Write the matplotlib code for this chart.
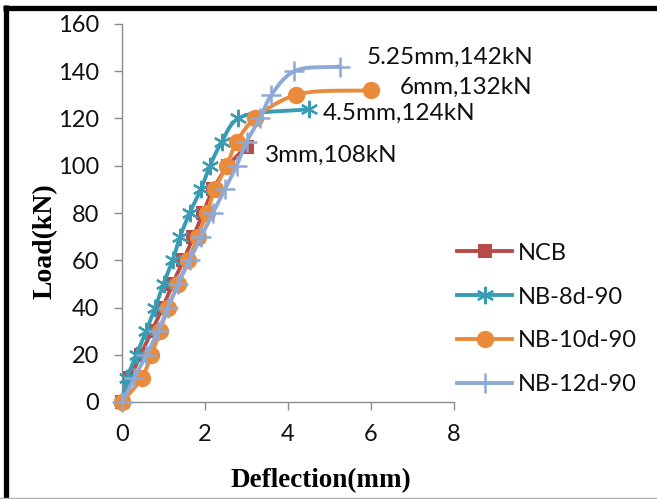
import numpy as np
import matplotlib
matplotlib.use("Agg")
import matplotlib.pyplot as plt
from matplotlib.lines import Line2D

# ---------------- data ----------------
ncb_x = [0, 0.2, 0.45, 0.72, 0.98, 1.22, 1.48, 1.72, 1.95, 2.2, 2.55, 3.0]
ncb_y = [0, 10, 20, 30, 40, 50, 60, 70, 80, 90, 100, 108]

nb8_x = [0, 0.12, 0.35, 0.58, 0.8, 1.0, 1.22, 1.4, 1.63, 1.9, 2.12, 2.4, 2.8, 4.5]
nb8_y = [0, 10, 20, 30, 40, 50, 60, 70, 80, 90, 100, 110, 120, 124]

nb10_x = [0, 0.47, 0.71, 0.91, 1.11, 1.35, 1.6, 1.83, 2.04, 2.24, 2.52, 2.76, 3.2, 4.2, 6.0]
nb10_y = [0, 10, 20, 30, 40, 50, 60, 70, 80, 90, 100, 110, 120, 130, 132]

nb12_x = [0, 0.29, 0.59, 0.87, 1.11, 1.35, 1.63, 1.91, 2.19, 2.48, 2.76, 3.0, 3.32, 3.6, 4.15, 5.25]
nb12_y = [0, 10, 20, 30, 40, 50, 60, 70, 80, 90, 100, 110, 120, 130, 140, 142]

series_names = ["NCB", "NB-8d-90", "NB-10d-90", "NB-12d-90"]
annot_texts = ["5.25mm,142kN", "6mm,132kN", "4.5mm,124kN", "3mm,108kN"]
annot_pos = [(5.9, 146), (6.7, 133), (4.84, 122.3), (3.45, 104.5)]

x_ticks = [0, 2, 4, 6, 8]
y_ticks = [0, 20, 40, 60, 80, 100, 120, 140, 160]


def smooth(x, y, n=16, alpha=0.5):
    """Centripetal Catmull-Rom curve through the given points (drawing only)."""
    P = np.column_stack([x, y]).astype(float)
    S = P * np.array([41.5, 2.36])
    S = np.vstack([2 * S[0] - S[1], S, 2 * S[-1] - S[-2]])
    out = []
    for i in range(1, len(S) - 2):
        p0, p1, p2, p3 = S[i - 1], S[i], S[i + 1], S[i + 2]
        def tj(ti, a, b):
            return ti + max(np.linalg.norm(b - a), 1e-6) ** alpha
        t0 = 0.0
        t1 = tj(t0, p0, p1)
        t2 = tj(t1, p1, p2)
        t3 = tj(t2, p2, p3)
        t = np.linspace(t1, t2, n)[:, None]
        A1 = (t1 - t) / (t1 - t0) * p0 + (t - t0) / (t1 - t0) * p1
        A2 = (t2 - t) / (t2 - t1) * p1 + (t - t1) / (t2 - t1) * p2
        A3 = (t3 - t) / (t3 - t2) * p2 + (t - t2) / (t3 - t2) * p3
        B1 = (t2 - t) / (t2 - t0) * A1 + (t - t0) / (t2 - t0) * A2
        B2 = (t3 - t) / (t3 - t1) * A2 + (t - t1) / (t3 - t1) * A3
        C = (t2 - t) / (t2 - t1) * B1 + (t - t1) / (t2 - t1) * B2
        out.append(C if i == 1 else C[1:])
    C = np.vstack(out) / np.array([41.5, 2.36])
    return C[:, 0], C[:, 1]


W, H = 657, 499
fig = plt.figure(figsize=(W / 100, H / 100), dpi=100)
fig.patch.set_facecolor("white")

ax = fig.add_axes([122 / W, 1 - 402 / H, (454 - 122) / W, (402 - 24) / H])
ax.set_xlim(0, 8)
ax.set_ylim(0, 160)

tick_font = "Lato"
text_col = "#111111"
red, teal, orange, blue = "#B84A47", "#3A9CB3", "#EA8A3B", "#8FA9D6"

styles = [
    (ncb_x, ncb_y, red, dict(marker="s", ms=10.5, mew=0)),
    (nb8_x, nb8_y, teal, dict(marker=(6, 2, 0), ms=12.5, mew=1.6)),
    (nb10_x, nb10_y, orange, dict(marker="o", ms=12.5, mew=0)),
    (nb12_x, nb12_y, blue, dict(marker="+", ms=14, mew=1.8)),
]

handles = []
for (xs, ys, col, mk), name in zip(styles, series_names):
    sx, sy = smooth(xs, ys)
    ax.plot(sx, sy, color=col, lw=2.8, solid_capstyle="round", clip_on=False, zorder=3)
    ax.plot(xs, ys, ls="none", color=col, mec=col, clip_on=False, zorder=3, **mk)
    handles.append(Line2D([], [], color=col, lw=2.8, mec=col, **mk))

for txt, (tx, ty) in zip(annot_texts, annot_pos):
    ax.text(tx, ty, txt, fontsize=17.5, family=tick_font, color=text_col,
            ha="left", va="center", clip_on=False)

for s in ["top", "right"]:
    ax.spines[s].set_visible(False)
for s in ["left", "bottom"]:
    ax.spines[s].set_color("#8c8c8c")
    ax.spines[s].set_linewidth(1.0)

ax.set_xticks(x_ticks)
ax.set_yticks(y_ticks)
ax.set_xticklabels([str(v) for v in x_ticks])
ax.set_yticklabels([str(v) for v in y_ticks])
ax.tick_params(axis="both", direction="out", length=5.5, width=1.0, color="#8c8c8c",
               labelsize=17, labelcolor=text_col)
ax.tick_params(axis="y", pad=11)
ax.tick_params(axis="x", pad=10.5)
for lab in ax.get_xticklabels() + ax.get_yticklabels():
    lab.set_family(tick_font)

fig.text(321 / W, 1 - 481 / H, "Deflection(mm)", fontsize=19.5, fontweight="bold",
         family="Liberation Serif", ha="center", va="center")
fig.text(45 / W, 1 - 241 / H, "Load(kN)", fontsize=20, fontweight="bold",
         family="Liberation Serif", ha="center", va="center", rotation=90)

leg = fig.legend(handles, series_names, loc="center left",
                 bbox_to_anchor=(457 / W, 1 - 319 / H), frameon=False,
                 borderpad=0, borderaxespad=0, handlelength=2.35, handletextpad=0.22,
                 labelspacing=0.97, prop={"family": tick_font, "size": 17})
for t in leg.get_texts():
    t.set_color(text_col)

# outer frame
fig.add_artist(Line2D([3 / W, 1], [1 - 7.5 / H, 1 - 7.5 / H], color="black", lw=3.8,
                      transform=fig.transFigure, solid_capstyle="butt"))
fig.add_artist(Line2D([5.5 / W, 5.5 / W], [0, 1 - 5 / H], color="black", lw=3.8,
                      transform=fig.transFigure, solid_capstyle="butt"))
fig.add_artist(Line2D([0, 1], [1 / H, 1 / H], color="#b0b0b0", lw=1.0,
                      transform=fig.transFigure))

fig.savefig("out.png", dpi=100, facecolor="white")
